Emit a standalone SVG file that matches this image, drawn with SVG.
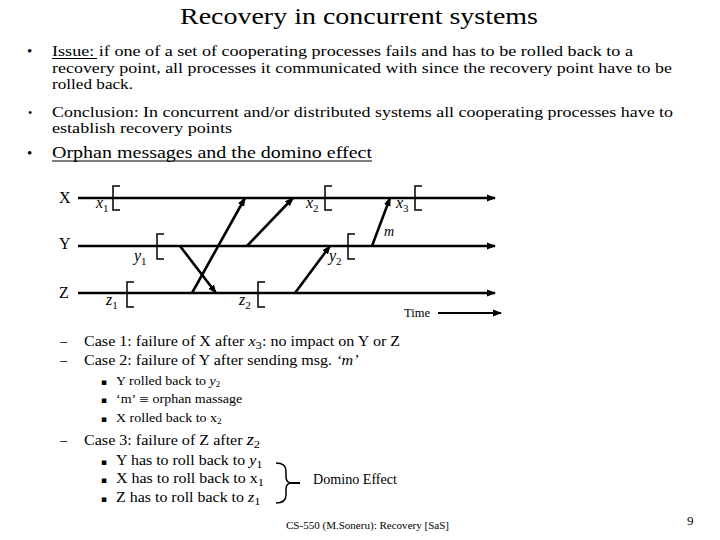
<svg xmlns="http://www.w3.org/2000/svg" width="720" height="540" viewBox="0 0 720 540">
<defs>
<marker id="ah" markerWidth="9" markerHeight="8" refX="8" refY="4" orient="auto" markerUnits="userSpaceOnUse"><path d="M0,0.5 L9,4 L0,7.5 z" fill="#000"/></marker>
</defs>
<style>
text{font-family:"Liberation Serif","Times New Roman",serif;fill:#000}
.t{font-size:15px}
.c{font-size:14px}
.s{font-size:12.5px}
.lbl{font-size:16px}
.it{font-style:italic}
.sub{font-style:normal;font-size:11px}
.sq{font-family:"DejaVu Sans",sans-serif;font-size:9px}
.ln{stroke:#000;stroke-width:2.6;fill:none;marker-end:url(#ah)}
.msg{stroke:#000;stroke-width:2.6;fill:none;marker-end:url(#ah)}
.bk{stroke:#000;stroke-width:1.5;fill:none}
.ul{stroke:#000;stroke-width:1}
</style>
<rect width="720" height="540" fill="#fff"/>

<g id="title">
<text x="180" y="24" font-size="24" textLength="358" lengthAdjust="spacingAndGlyphs">Recovery in concurrent systems</text>
</g>

<g id="bullets">
<text x="27" y="56" class="t">•</text>
<text x="52" y="56" class="t" textLength="581" lengthAdjust="spacingAndGlyphs">Issue: if one of a set of cooperating processes fails and has to be rolled back to a</text>
<line class="ul" x1="52" y1="58.5" x2="97" y2="58.5"/>
<text x="52" y="73" class="t" textLength="620" lengthAdjust="spacingAndGlyphs">recovery point, all processes it communicated with since the recovery point have to be</text>
<text x="52" y="89" class="t" textLength="81" lengthAdjust="spacingAndGlyphs">rolled back.</text>
<text x="28" y="117" font-size="12">•</text>
<text x="52" y="117" class="t" textLength="621" lengthAdjust="spacingAndGlyphs">Conclusion: In concurrent and/or distributed systems all cooperating processes have to</text>
<text x="52" y="133" class="t" textLength="180" lengthAdjust="spacingAndGlyphs">establish recovery points</text>
<text x="27" y="158" class="t">•</text>
<text x="52" y="158" font-size="17.5" textLength="320" lengthAdjust="spacingAndGlyphs">Orphan messages and the domino effect</text>
<line class="ul" x1="52" y1="161" x2="372" y2="161"/>
</g>

<g id="process-X">
<text x="59" y="203" class="lbl">X</text>
<path class="ln" d="M78,198 H495"/>
<path class="bk" d="M120,186 H113 V210 H120"/>
<text x="96" y="208" class="lbl it">x<tspan class="sub" dy="4">1</tspan></text>
<path class="bk" d="M332,186 H325 V210 H332"/>
<text x="306" y="208" class="lbl it">x<tspan class="sub" dy="4">2</tspan></text>
<path class="bk" d="M422,186 H415 V210 H422"/>
<text x="396" y="208" class="lbl it">x<tspan class="sub" dy="4">3</tspan></text>
</g>

<g id="process-Y">
<text x="59" y="249" class="lbl">Y</text>
<path class="ln" d="M78,246 H495"/>
<path class="bk" d="M164,234 H157 V259 H164"/>
<text x="134" y="261" class="lbl it">y<tspan class="sub" dy="4">1</tspan></text>
<path class="bk" d="M355,234 H348 V259 H355"/>
<text x="329" y="261" class="lbl it">y<tspan class="sub" dy="4">2</tspan></text>
</g>

<g id="process-Z">
<text x="59" y="298" class="lbl">Z</text>
<path class="ln" d="M78,293 H495"/>
<path class="bk" d="M134,282 H127 V307 H134"/>
<text x="106" y="305" class="lbl it">z<tspan class="sub" dy="4">1</tspan></text>
<path class="bk" d="M265,282 H258 V307 H265"/>
<text x="239" y="305" class="lbl it">z<tspan class="sub" dy="4">2</tspan></text>
</g>

<g id="connectors">
<path class="msg" d="M192,293 L245,198"/>
<path class="msg" d="M180,246 L216,293"/>
<path class="msg" d="M247,246 L293,198"/>
<path class="msg" d="M295,293 L330,246"/>
<path class="msg" d="M372,246 L390,198"/>
<text x="384" y="236" class="c it">m</text>
</g>

<g id="time">
<text x="404" y="317" font-size="12.5">Time</text>
<path class="ln" style="stroke-width:2" d="M438,313 H501"/>
</g>

<g id="cases">
<text x="60" y="346" class="c">–</text>
<text class="c" transform="translate(84,346) scale(1.15,1)">Case 1: failure of X after <tspan class="it">x</tspan><tspan class="sub" dy="3">3</tspan><tspan dy="-3">: no impact on Y or Z</tspan></text>
<text x="60" y="365" class="c">–</text>
<text class="c" transform="translate(84,365) scale(1.15,1)">Case 2: failure of Y after sending msg. <tspan class="it">‘m’</tspan></text>
<text x="101" y="385" class="sq">▪</text>
<text class="s" transform="translate(116,385) scale(1.12,1)">Y rolled back to <tspan class="it">y</tspan><tspan dy="2" font-size="8">2</tspan></text>
<text x="101" y="403" class="sq">▪</text>
<text class="s" transform="translate(116,403) scale(1.12,1)">‘m’ <tspan font-family="DejaVu Serif, serif" font-size="11">≡</tspan> orphan massage</text>
<text x="101" y="422" class="sq">▪</text>
<text class="s" transform="translate(116,422) scale(1.12,1)">X rolled back to x<tspan dy="2" font-size="8">2</tspan></text>
<text x="60" y="445" class="c">–</text>
<text class="c" transform="translate(84,445) scale(1.15,1)">Case 3: failure of Z after <tspan class="it" font-size="16">z</tspan><tspan class="sub" dy="3">2</tspan></text>
<text x="101" y="465" class="sq">▪</text>
<text class="c" transform="translate(116,465) scale(1.14,1)">Y has to roll back to <tspan class="it">y</tspan><tspan class="sub" dy="3">1</tspan></text>
<text x="101" y="483" class="sq">▪</text>
<text class="c" transform="translate(116,483) scale(1.14,1)">X has to roll back to x<tspan class="sub" dy="3">1</tspan></text>
<text x="101" y="502" class="sq">▪</text>
<text class="c" transform="translate(116,502) scale(1.14,1)">Z has to roll back to <tspan class="it">z</tspan><tspan class="sub" dy="3">1</tspan></text>
</g>

<g id="domino">
<path class="bk" d="M276,463 Q286,463 286,471 V477 Q286,483 292,483 Q286,483 286,489 V495 Q286,503 276,503"/>
<path stroke="#000" stroke-width="2" d="M290,483 H300"/>
<text x="313" y="484" class="c" textLength="84" lengthAdjust="spacingAndGlyphs">Domino Effect</text>
</g>

<g id="footer">
<text x="286" y="529" font-size="11" textLength="163" lengthAdjust="spacingAndGlyphs">CS-550 (M.Soneru): Recovery [SaS]</text>
<text x="687" y="525" font-family="Liberation Sans, Arial, sans-serif" font-size="13">9</text>
</g>
</svg>
